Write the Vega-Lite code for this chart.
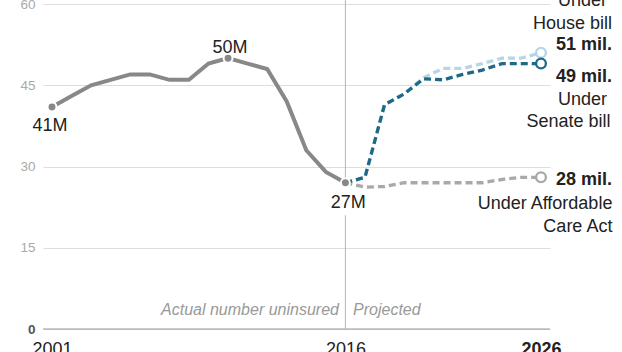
{
  "$schema": "https://vega.github.io/schema/vega-lite/v6.json",
  "width": 507,
  "height": 325,
  "autosize": "none",
  "padding": {"left": 43, "top": 4, "right": 72, "bottom": 23},
  "background": "white",
  "config": {"view": {"stroke": null}, "font": "Liberation Sans"},
  "datasets": {
    "actual": [
      {"year": 2001, "value": 41}, {"year": 2002, "value": 43}, {"year": 2003, "value": 45},
      {"year": 2004, "value": 46}, {"year": 2005, "value": 47}, {"year": 2006, "value": 47},
      {"year": 2007, "value": 46}, {"year": 2008, "value": 46}, {"year": 2009, "value": 49},
      {"year": 2010, "value": 50}, {"year": 2011, "value": 49}, {"year": 2012, "value": 48},
      {"year": 2013, "value": 42}, {"year": 2014, "value": 33}, {"year": 2015, "value": 29},
      {"year": 2016, "value": 27}
    ],
    "proj": [
      {"series": "ACA", "year": 2016, "value": 27}, {"series": "ACA", "year": 2017, "value": 26.2},
      {"series": "ACA", "year": 2018, "value": 26.3}, {"series": "ACA", "year": 2019, "value": 27},
      {"series": "ACA", "year": 2020, "value": 27}, {"series": "ACA", "year": 2021, "value": 27},
      {"series": "ACA", "year": 2022, "value": 27}, {"series": "ACA", "year": 2023, "value": 27},
      {"series": "ACA", "year": 2024, "value": 27.6}, {"series": "ACA", "year": 2025, "value": 28},
      {"series": "ACA", "year": 2026, "value": 28},
      {"series": "House", "year": 2016, "value": 27}, {"series": "House", "year": 2017, "value": 28},
      {"series": "House", "year": 2018, "value": 41.4}, {"series": "House", "year": 2019, "value": 43.4},
      {"series": "House", "year": 2020, "value": 46.4}, {"series": "House", "year": 2021, "value": 48.1},
      {"series": "House", "year": 2022, "value": 48.1}, {"series": "House", "year": 2023, "value": 49},
      {"series": "House", "year": 2024, "value": 50}, {"series": "House", "year": 2025, "value": 50},
      {"series": "House", "year": 2026, "value": 51},
      {"series": "Senate", "year": 2016, "value": 27}, {"series": "Senate", "year": 2017, "value": 28},
      {"series": "Senate", "year": 2018, "value": 41.4}, {"series": "Senate", "year": 2019, "value": 43.4},
      {"series": "Senate", "year": 2020, "value": 46.2}, {"series": "Senate", "year": 2021, "value": 46},
      {"series": "Senate", "year": 2022, "value": 47}, {"series": "Senate", "year": 2023, "value": 47.8},
      {"series": "Senate", "year": 2024, "value": 49}, {"series": "Senate", "year": 2025, "value": 49},
      {"series": "Senate", "year": 2026, "value": 49}
    ],
    "ends": [
      {"series": "ACA", "year": 2026, "value": 28},
      {"series": "House", "year": 2026, "value": 51},
      {"series": "Senate", "year": 2026, "value": 49}
    ],
    "dots": [
      {"year": 2001, "value": 41}, {"year": 2010, "value": 50}, {"year": 2016, "value": 27}
    ],
    "vrule": [
      {"year": 2016, "from": 60.7, "to": 27},
      {"year": 2016, "from": 21, "to": 0}
    ],
    "zero": [{"value": 0}],
    "plainLabels": [
      {"year": 2000.9, "value": 37.5, "label": "41M"},
      {"year": 2010.1, "value": 51.8, "label": "50M"},
      {"year": 2016.15, "value": 23.3, "label": "27M"}
    ],
    "rightLabels": [
      {"year": 2029.37, "value": 60.5, "label": "Under"},
      {"year": 2029.63, "value": 56.3, "label": "House bill"},
      {"year": 2029.37, "value": 42.3, "label": "Under"},
      {"year": 2029.55, "value": 38.3, "label": "Senate bill"},
      {"year": 2029.65, "value": 23.1, "label": "Under Affordable"},
      {"year": 2029.65, "value": 18.9, "label": "Care Act"}
    ],
    "boldLabels": [
      {"year": 2029.63, "value": 52.4, "label": "51 mil."},
      {"year": 2029.63, "value": 46.6, "label": "49 mil."},
      {"year": 2029.63, "value": 27.5, "label": "28 mil."}
    ],
    "italicLeft": [{"year": 2016.39, "value": 3.5, "label": "Projected"}],
    "italicRight": [{"year": 2015.67, "value": 3.5, "label": "Actual number uninsured"}]
  },
  "encoding": {
    "x": {
      "field": "year", "type": "quantitative",
      "scale": {"domain": [2000.54, 2026.46], "nice": false, "zero": false},
      "axis": {
        "values": [2001, 2016, 2026], "format": "d", "title": null,
        "grid": false, "domain": false, "ticks": false,
        "labelFontSize": 18, "labelColor": "#222", "labelPadding": 11,
        "labelFont": "Liberation Sans",
        "labelFontWeight": {"condition": {"test": "datum.value === 2026", "value": "bold"}, "value": "normal"}
      }
    },
    "y": {
      "field": "value", "type": "quantitative",
      "scale": {"domain": [0, 60], "nice": false},
      "axis": {
        "values": [0, 15, 30, 45, 60], "title": null,
        "domain": false, "ticks": false, "grid": true, "gridColor": "#dddddd", "gridWidth": 1,
        "labelFontSize": 13.5, "labelPadding": 8, "labelFont": "Liberation Sans",
        "labelColor": {"condition": {"test": "datum.value === 0", "value": "#555"}, "value": "#aaa"},
        "labelFontWeight": {"condition": {"test": "datum.value === 0", "value": "bold"}, "value": "normal"}
      }
    }
  },
  "layer": [
    {
      "data": {"name": "zero"},
      "mark": {"type": "rule", "color": "#999", "strokeWidth": 1.2},
      "encoding": {"x": null, "y": {"field": "value", "type": "quantitative"}}
    },
    {
      "data": {"name": "vrule"},
      "mark": {"type": "rule", "color": "#b5b5b5", "strokeWidth": 1},
      "encoding": {
        "y": {"field": "from", "type": "quantitative"},
        "y2": {"field": "to"}
      }
    },
    {
      "data": {"name": "actual"},
      "mark": {"type": "line", "color": "#888888", "strokeWidth": 4},
      "encoding": {}
    },
    {
      "data": {"name": "proj"},
      "mark": {"type": "line", "strokeWidth": 3.3, "strokeDash": [7, 4]},
      "encoding": {
        "color": {
          "field": "series", "type": "nominal", "legend": null,
          "scale": {"domain": ["ACA", "House", "Senate"], "range": ["#a9a9a9", "#b6d5e6", "#1e6a86"]}
        },
        "order": {"field": "year", "type": "quantitative"}
      }
    },
    {
      "data": {"name": "dots"},
      "mark": {"type": "point", "filled": true, "size": 80, "color": "#888888", "opacity": 1, "stroke": "white", "strokeWidth": 2}
    },
    {
      "data": {"name": "ends"},
      "mark": {"type": "point", "filled": false, "size": 95, "strokeWidth": 2.3, "fill": "white", "opacity": 1},
      "encoding": {
        "stroke": {
          "field": "series", "type": "nominal", "legend": null,
          "scale": {"domain": ["ACA", "House", "Senate"], "range": ["#a9a9a9", "#b6d5e6", "#1e6a86"]}
        }
      }
    },
    {
      "data": {"name": "plainLabels"},
      "mark": {"type": "text", "fontSize": 18, "color": "#222", "align": "center", "baseline": "middle", "font": "Liberation Sans"},
      "encoding": {"text": {"field": "label"}}
    },
    {
      "data": {"name": "rightLabels"},
      "mark": {"type": "text", "fontSize": 18, "color": "#222", "align": "right", "baseline": "middle", "font": "Liberation Sans"},
      "encoding": {"text": {"field": "label"}}
    },
    {
      "data": {"name": "boldLabels"},
      "mark": {"type": "text", "fontSize": 18, "fontWeight": "bold", "color": "#222", "align": "right", "baseline": "middle", "font": "Liberation Sans"},
      "encoding": {"text": {"field": "label"}}
    },
    {
      "data": {"name": "italicLeft"},
      "mark": {"type": "text", "fontSize": 16, "fontStyle": "italic", "color": "#999", "align": "left", "baseline": "middle", "font": "Liberation Sans"},
      "encoding": {"text": {"field": "label"}}
    },
    {
      "data": {"name": "italicRight"},
      "mark": {"type": "text", "fontSize": 16, "fontStyle": "italic", "color": "#999", "align": "right", "baseline": "middle", "font": "Liberation Sans"},
      "encoding": {"text": {"field": "label"}}
    }
  ]
}
